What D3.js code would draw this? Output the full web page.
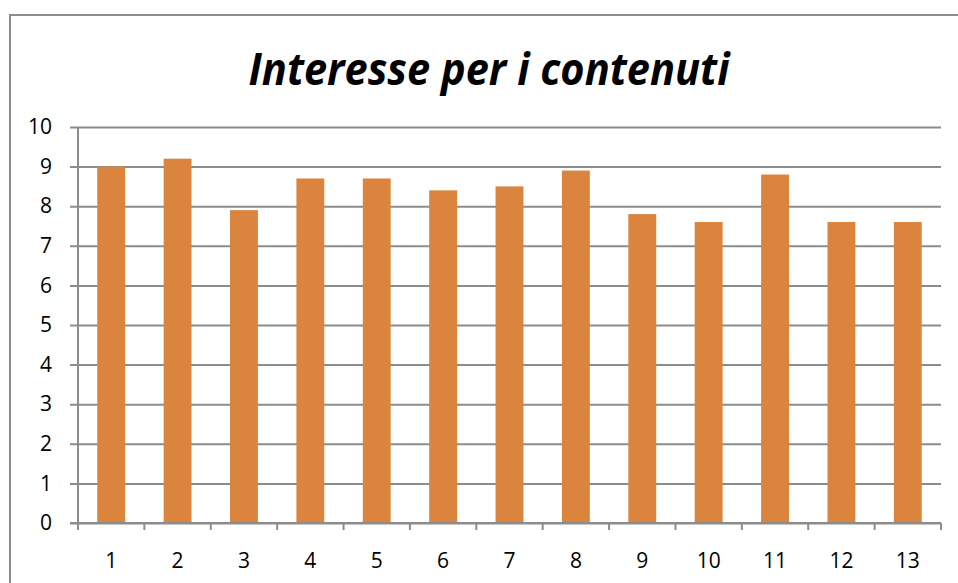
<!DOCTYPE html>
<html>
<head>
<meta charset="utf-8">
<script src="https://cdn.jsdelivr.net/npm/d3@7"></script>
<style>
  body { margin: 0; background: #fff; }
  svg text { font-family: "Open Sans", "Liberation Sans", sans-serif; fill: #000; }
</style>
</head>
<body>
<svg width="958" height="583"></svg>
<script>
// chart data
var categories = ["1", "2", "3", "4", "5", "6", "7", "8", "9", "10", "11", "12", "13"];
var values = [9, 9.2, 7.9, 8.7, 8.7, 8.4, 8.5, 8.9, 7.8, 7.6, 8.8, 7.6, 7.6];
var yTicks = [0, 1, 2, 3, 4, 5, 6, 7, 8, 9, 10];
var title = "Interesse per i contenuti";

var svg = d3.select("svg"),
  width = +svg.attr("width"),
  height = +svg.attr("height");

var margin = { left: 78, right: 17, top: 127, bottom: 60 };

// outer frame
svg.append("rect")
  .attr("x", 10).attr("y", 15)
  .attr("width", 980).attr("height", 600)
  .attr("fill", "none")
  .attr("stroke", "#8c8c8c")
  .attr("stroke-width", 2);

// title
svg.append("text")
  .attr("x", 489).attr("y", 85)
  .attr("text-anchor", "middle")
  .style("font-size", "44px")
  .style("font-weight", "bold")
  .style("font-style", "italic")
  .attr("textLength", 481)
  .attr("lengthAdjust", "spacingAndGlyphs")
  .text(title);

var x = d3.scaleBand()
  .domain(categories)
  .range([margin.left, width - margin.right])
  .paddingInner(0.58)
  .paddingOuter(0.29);

var y = d3.scaleLinear()
  .domain([0, 10])
  .range([height - margin.bottom, margin.top]);

// gridlines + y axis
var yAxis = d3.axisLeft(y).tickValues(yTicks).tickSize(-(width - margin.right - margin.left)).tickPadding(18);
var gy = svg.append("g")
  .attr("transform", "translate(" + margin.left + ",0)")
  .call(yAxis);
gy.select(".domain").remove();
gy.selectAll(".tick line")
  .attr("x1", -8)
  .attr("stroke", "#8c8c8c")
  .attr("stroke-width", 2);
gy.selectAll(".tick text")
  .attr("x", -26)
  .style("font-size", "21px");

// bars
svg.append("g")
  .selectAll("rect")
  .data(values)
  .enter().append("rect")
  .attr("x", function (d, i) { return x(categories[i]); })
  .attr("y", function (d) { return y(d); })
  .attr("width", x.bandwidth())
  .attr("height", function (d) { return y(0) - y(d); })
  .attr("fill", "#db843d");

// vertical axis line
svg.append("line")
  .attr("x1", margin.left).attr("x2", margin.left)
  .attr("y1", y(10)).attr("y2", y(0) + 7)
  .attr("stroke", "#8c8c8c").attr("stroke-width", 2);

// x axis line & ticks between categories
svg.append("line")
  .attr("x1", margin.left - 8).attr("x2", width - margin.right)
  .attr("y1", y(0)).attr("y2", y(0))
  .attr("stroke", "#8c8c8c").attr("stroke-width", 2);

var step = x.step();
var bounds = d3.range(categories.length + 1).map(function (i) { return margin.left + i * (width - margin.right - margin.left) / categories.length; });
svg.append("g")
  .selectAll("line")
  .data(bounds)
  .enter().append("line")
  .attr("x1", function (d) { return d; })
  .attr("x2", function (d) { return d; })
  .attr("y1", y(0)).attr("y2", y(0) + 7)
  .attr("stroke", "#8c8c8c").attr("stroke-width", 2);

// category labels
svg.append("g")
  .selectAll("text")
  .data(categories)
  .enter().append("text")
  .attr("x", function (d) { return x(d) + x.bandwidth() / 2; })
  .attr("y", y(0) + 45)
  .attr("text-anchor", "middle")
  .style("font-size", "21px")
  .text(function (d) { return d; });
</script>
</body>
</html>
